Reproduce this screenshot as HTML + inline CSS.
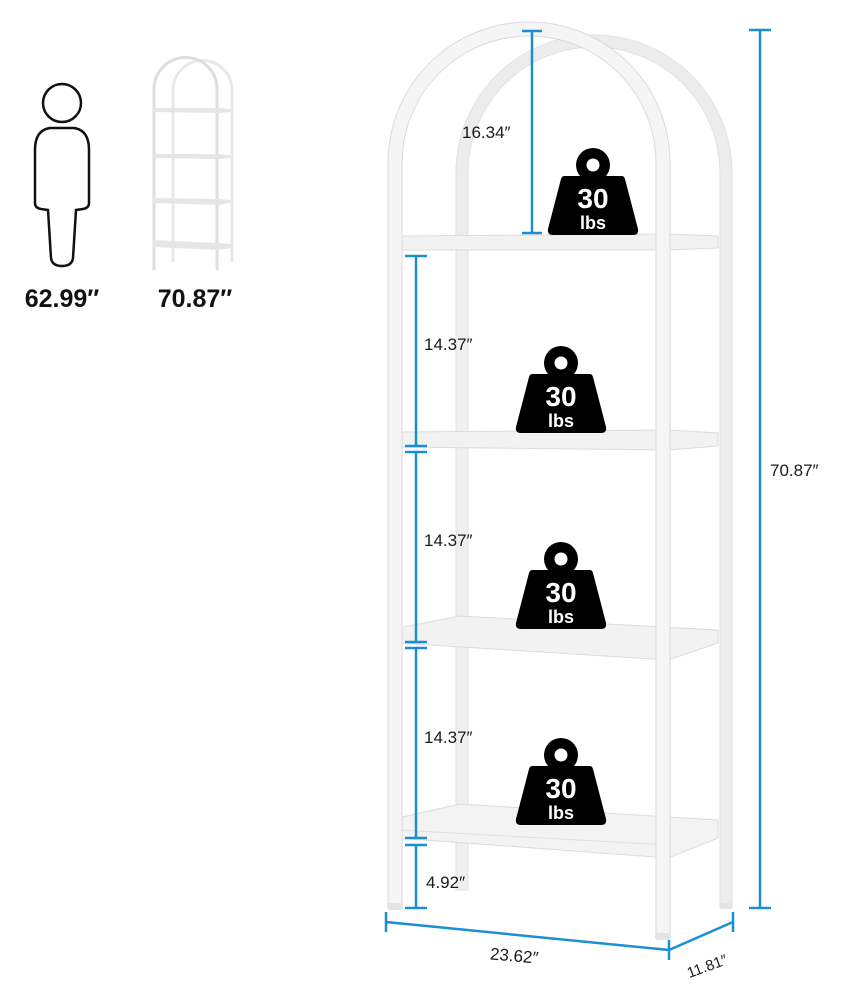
<!DOCTYPE html>
<html><head><style>
html,body{margin:0;padding:0;background:#fff;}
svg{display:block;}
text{font-family:"Liberation Sans",sans-serif;}
</style></head><body>
<svg width="852" height="990" viewBox="0 0 852 990" xmlns="http://www.w3.org/2000/svg">
<defs>
<g id="wt">
  <circle cx="0" cy="0" r="17" fill="#000"/>
  <circle cx="0" cy="0" r="6.5" fill="#fff"/>
  <path d="M-29,11 L29,11 Q31,11 32,14 L45,64 Q46,70 40,70 L-40,70 Q-46,70 -45,64 L-32,14 Q-31,11 -29,11 Z" fill="#000"/>
  <text x="0" y="43" text-anchor="middle" font-size="28" font-weight="bold" fill="#fff">30</text>
  <text x="0" y="64" text-anchor="middle" font-size="18" font-weight="bold" fill="#fff">lbs</text>
</g>
</defs>

<!-- person icon -->
<circle cx="62" cy="103" r="19" fill="none" stroke="#111" stroke-width="2.5"/>
<path d="M50,128 L74,128 Q89,130 89,150 L89,203 Q89,208 83,209 L76,210 L73,258 Q72,266 62,266 Q52,266 51,258 L48,210 L41,209 Q35,208 35,203 L35,150 Q35,130 50,128 Z" fill="none" stroke="#111" stroke-width="2.5"/>
<text x="62" y="307" text-anchor="middle" font-size="25" font-weight="bold" fill="#111">62.99″</text>

<!-- mini shelf -->
<g fill="none" stroke-width="3">
  <path d="M173,262 L173,90 A29.5,29.5 0 0 1 232,90 L232,262" stroke="#e8e8e8"/>
  <path d="M154,270 L154,89 A31.5,31.5 0 0 1 217,89 L217,270" stroke="#dedede"/>
</g>
<g fill="#e6e6e6">
  <polygon points="153,108 218,108 231,109 231,112 218,113 153,112"/>
  <polygon points="153,154 218,154 231,155 231,158 218,159 153,158"/>
  <polygon points="153,198 218,199 231,200 231,203 218,205 153,203"/>
  <polygon points="153,240 218,243 231,244 231,248 218,250 153,247"/>
</g>
<text x="195" y="307" text-anchor="middle" font-size="25" font-weight="bold" fill="#111">70.87″</text>

<!-- back frame -->
<g fill="none" stroke="#ececec" stroke-width="13">
  <path d="M462,238 L462,173 A132,132 0 0 1 726,173 L726,905"/>
</g>
<g fill="none" stroke="#e2e2e2" stroke-width="1">
  <path d="M456,238 L456,173 A138,138 0 0 1 732,173 L732,905"/>
  <path d="M468,238 L468,173 A126,126 0 0 1 720,173 L720,905"/>
</g>
<rect x="456" y="250" width="12" height="640" fill="#f0f0f0" stroke="#e0e0e0"/>

<!-- shelves -->
<g>
  <polygon points="398,236 668,234 718,236 718,248 668,250 398,250" fill="#f2f2f2" stroke="#dcdcdc"/>
  <polygon points="398,432 668,430 718,433 718,446 668,450 398,447" fill="#f2f2f2" stroke="#dcdcdc"/>
  <polygon points="398,628 460,616 718,630 718,643 668,660 398,643" fill="#f2f2f2" stroke="#dcdcdc"/>
  <polygon points="398,818 460,804 718,820 718,838 668,858 398,838" fill="#f3f3f3" stroke="#dcdcdc"/>
  <line x1="398" y1="830" x2="668" y2="845" stroke="#e0e0e0"/>
</g>

<!-- front frame -->
<g fill="none" stroke="#f5f5f5" stroke-width="13">
  <path d="M395,905 L395,163 A134,134 0 0 1 663,163 L663,935"/>
</g>
<g fill="none" stroke="#dadada" stroke-width="1">
  <path d="M388,905 L388,163 A141,141 0 0 1 670,163 L670,935"/>
  <path d="M402,905 L402,163 A127,127 0 0 1 656,163 L656,935"/>
</g>
<rect x="387" y="903" width="16" height="7" rx="3" fill="#e4e4e4"/>
<rect x="655" y="933" width="16" height="7" rx="3" fill="#e4e4e4"/>
<rect x="719" y="903" width="14" height="6" rx="3" fill="#e4e4e4"/>

<!-- weights -->
<use href="#wt" x="593" y="165"/>
<use href="#wt" x="561" y="363"/>
<use href="#wt" x="561" y="559"/>
<use href="#wt" x="561" y="755"/>

<!-- dimension lines -->
<g stroke="#1b8fd2" stroke-width="2.5" fill="none">
  <path d="M532,31 L532,233 M522,31 L542,31 M522,233 L542,233"/>
  <path d="M416,256 L416,446 M405,256 L427,256 M405,446 L427,446"/>
  <path d="M416,452 L416,642 M405,452 L427,452 M405,642 L427,642"/>
  <path d="M416,648 L416,838 M405,648 L427,648 M405,838 L427,838"/>
  <path d="M416,845 L416,908 M405,845 L427,845 M405,908 L427,908"/>
  <path d="M760,30 L760,908 M749,30 L771,30 M749,908 L771,908"/>
  <path d="M386,922 L669,950 M386,912 L386,932 M669,940 L669,960"/>
  <path d="M669,950 L733,922 M733,912 L733,932"/>
</g>

<!-- labels -->
<g font-size="17" fill="#1a1a1a">
  <text x="462" y="138">16.34″</text>
  <text x="424" y="350">14.37″</text>
  <text x="424" y="546">14.37″</text>
  <text x="424" y="743">14.37″</text>
  <text x="426" y="888">4.92″</text>
  <text x="770" y="476">70.87″</text>
  <text x="490" y="962" transform="rotate(5 520 956)">23.62″</text>
  <text x="686" y="972" transform="rotate(-20 705 966)" font-size="15">11.81″</text>
</g>
</svg>
</body></html>
